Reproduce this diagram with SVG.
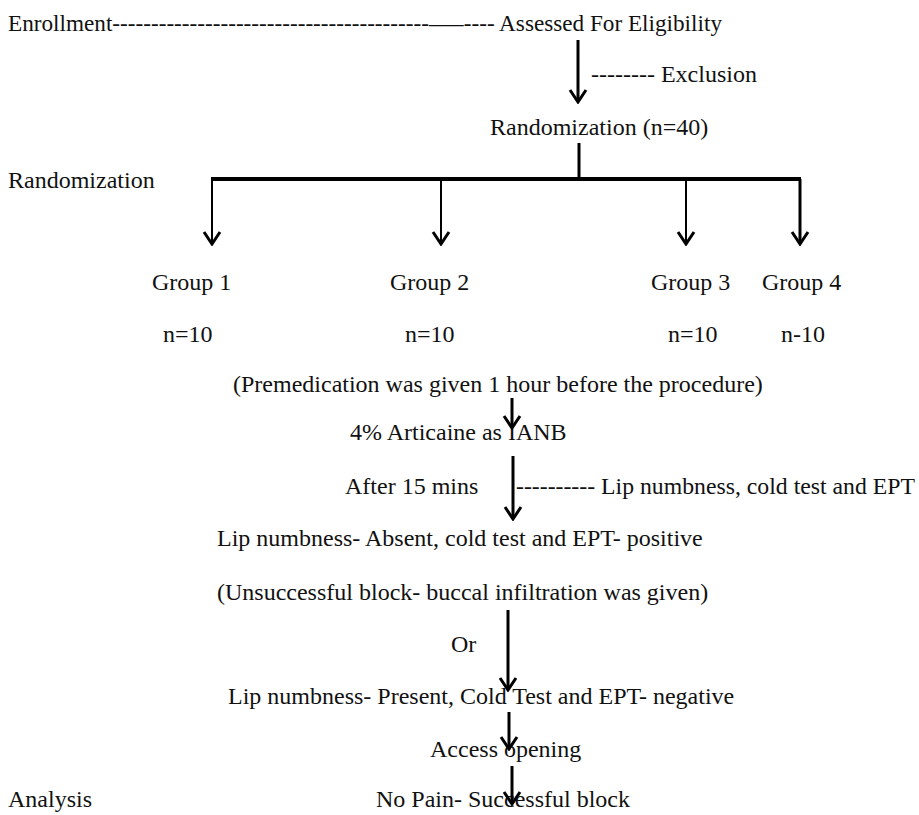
<svg xmlns="http://www.w3.org/2000/svg" width="919" height="815" viewBox="0 0 919 815">
<style>
.c{stroke:#000;fill:none;stroke-width:3}
.t{stroke:#000;fill:none;stroke-width:2}
</style>
<defs>
<marker id="v" viewBox="-14 -10 16 20" markerWidth="16" markerHeight="20" refX="0" refY="0" markerUnits="userSpaceOnUse" orient="auto">
<path d="M-12,-8 L0,0 L-12,8" fill="none" stroke="#000" stroke-width="3"/>
</marker>
</defs>
<rect width="919" height="815" fill="#fff"/>
<g font-family="Liberation Serif, Times New Roman, serif" font-size="24" fill="#111">
<g id="enroll"><text x="8" y="31" textLength="714" lengthAdjust="spacingAndGlyphs">Enrollment-----------------------------------------–––---- Assessed For Eligibility</text></g>
<g id="exclusion"><text x="591" y="82">-------- Exclusion</text></g>
<g id="rand"><text x="490" y="135">Randomization (n=40)</text></g>
<g id="randLabel"><text x="8" y="188">Randomization</text></g>
<g id="g1"><text x="152" y="290">Group 1</text><text x="163" y="342">n=10</text></g>
<g id="g2"><text x="390" y="290">Group 2</text><text x="405" y="342">n=10</text></g>
<g id="g3"><text x="651" y="290">Group 3</text><text x="668" y="342">n=10</text></g>
<g id="g4"><text x="762" y="290">Group 4</text><text x="781" y="342">n-10</text></g>
<g id="premed"><text x="233" y="392">(Premedication was given 1 hour before the procedure)</text></g>
<g id="articaine"><text x="350" y="440">4% Articaine as IANB</text></g>
<g id="after"><text x="345" y="494">After 15 mins</text></g>
<g id="lipcheck"><text x="516" y="494" textLength="399" lengthAdjust="spacingAndGlyphs">---------- Lip numbness, cold test and EPT</text></g>
<g id="absent"><text x="217" y="546">Lip numbness- Absent, cold test and EPT- positive</text></g>
<g id="unsucc"><text x="217" y="600">(Unsuccessful block- buccal infiltration was given)</text></g>
<g id="or"><text x="451" y="652">Or</text></g>
<g id="present"><text x="228" y="704">Lip numbness- Present, Cold Test and EPT- negative</text></g>
<g id="access"><text x="430" y="757">Access opening</text></g>
<g id="analysis"><text x="8" y="807">Analysis</text></g>
<g id="nopain"><text x="376" y="807">No Pain- Successful block</text></g>
</g>
<g id="connectors">
<line class="c" x1="578" y1="40" x2="578" y2="102" marker-end="url(#v)"/>
<line class="c" x1="579" y1="143" x2="579" y2="179"/>
<line x1="211" y1="179" x2="801" y2="179" stroke="#000" stroke-width="4"/>
<line class="t" x1="212" y1="179" x2="212" y2="244" marker-end="url(#v)"/>
<line class="t" x1="441" y1="179" x2="441" y2="244" marker-end="url(#v)"/>
<line class="t" x1="686" y1="179" x2="686" y2="244" marker-end="url(#v)"/>
<line class="c" x1="800" y1="179" x2="800" y2="244" marker-end="url(#v)"/>
<line class="c" x1="512" y1="398" x2="512" y2="428" marker-end="url(#v)"/>
<line class="c" x1="513" y1="456" x2="513" y2="519" marker-end="url(#v)"/>
<line class="c" x1="508" y1="610" x2="508" y2="690" marker-end="url(#v)"/>
<line class="c" x1="509" y1="712" x2="509" y2="749" marker-end="url(#v)"/>
<line class="c" x1="512" y1="766" x2="512" y2="804" marker-end="url(#v)"/>
</g>
</svg>
